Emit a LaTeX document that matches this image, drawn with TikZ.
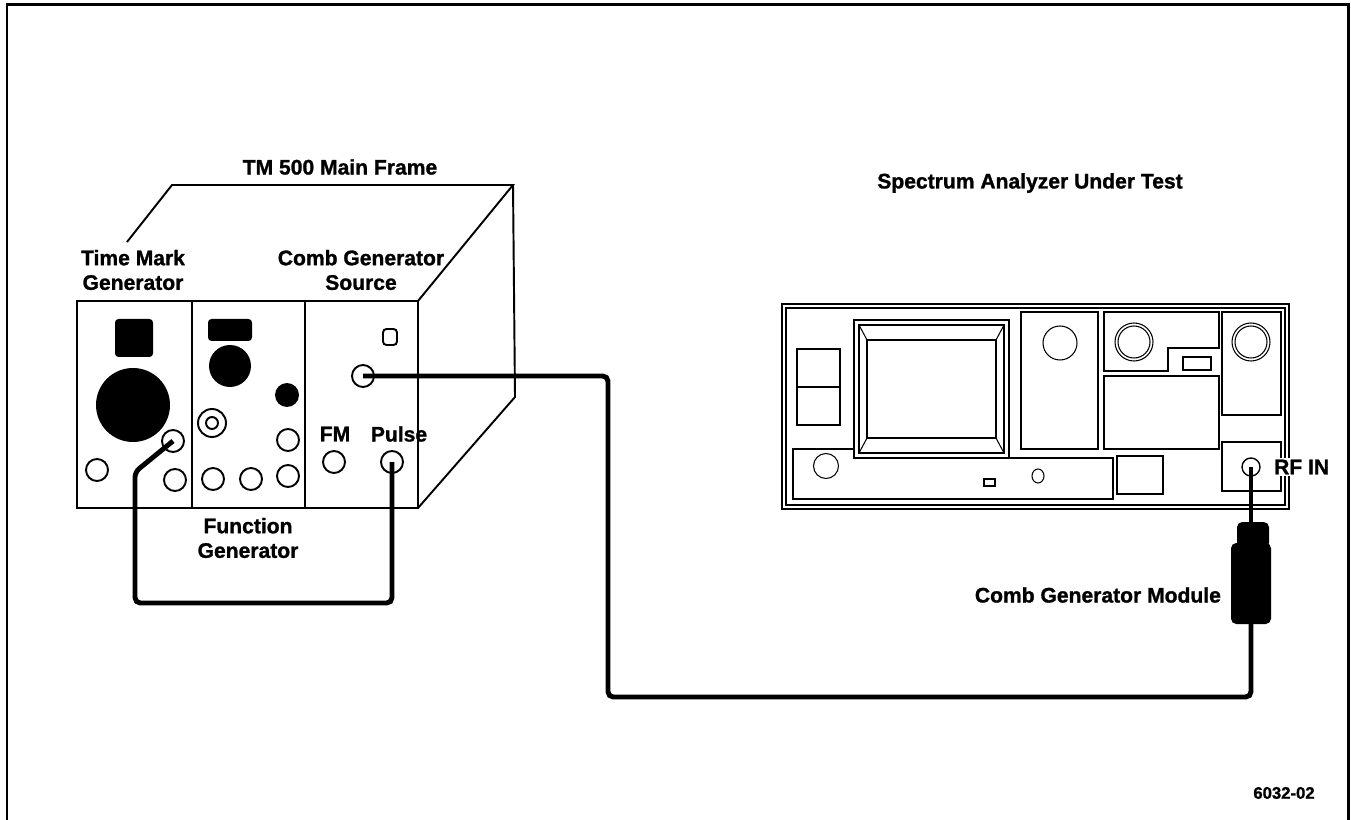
\documentclass[tikz,border=0pt]{standalone}
\usepackage{fontspec}
\setmainfont{Liberation Sans}[BoldFeatures={FakeBold=1.2}]
\begin{document}
\begin{tikzpicture}[x=0.02cm, y=-0.02cm,
  lbl/.style={font=\bfseries\fontsize{12}{14}\selectfont, align=center, inner sep=1pt},
  box/.style={line width=1.1pt},
  sa/.style={line width=0.6pt},
  jack/.style={circle, draw, line width=1.1pt, inner sep=0pt, minimum size=4.4mm},
  cable/.style={line width=2.8pt, rounded corners=3pt}]
  \useasboundingbox (0,0) rectangle (1351,820);
  \draw [line width=1.7pt] (7,820) -- (7,5) -- (1348,5) -- (1348,820);

  % TM 500 main frame
  \draw [box] (77,301) rectangle (418,508);
  \draw [box] (127,242) -- (172,185) -- (513,185) -- (418,301);
  \draw [box] (513,185) -- (515,397) -- (418,508);
  \draw [box] (192,301) -- (192,508);
  \draw [box] (305,301) -- (305,508);
  \node [lbl] (tm500) at (340,167) {TM 500 Main Frame};
  \node [lbl] (tmg) at (133,270) {Time Mark\\Generator};
  \node [lbl] (cgs) at (361,270) {Comb Generator\\Source};
  \node [lbl] (fg) at (248,538) {Function\\Generator};

  % time mark generator
  \fill [rounded corners=2pt] (115,319) rectangle (153,357);
  \fill (133,405) circle [radius=7.4mm];
  \node [jack] (tmout) at (173,441) {};
  \node [jack] (tm1) at (97,470) {};
  \node [jack] (tm2) at (175,480) {};

  % function generator
  \fill [rounded corners=2pt] (208,319) rectangle (252,341);
  \fill (230,366) circle [radius=4.2mm];
  \fill (287,395) circle [radius=2.4mm];
  \node [jack, minimum size=5.6mm] (fgbnc) at (212,423) {};
  \draw [box] (fgbnc) circle [radius=1.2mm];
  \node [jack] (fg1) at (288,440) {};
  \node [jack] (fg2) at (213,479) {};
  \node [jack] (fg3) at (251,479) {};
  \node [jack] (fg4) at (288,476) {};

  % comb generator source
  \draw [box, rounded corners=2pt] (383,329) rectangle (397,345);
  \node [jack] (combout) at (363,376) {};
  \node [lbl] (fmlbl) at (335,434) {FM};
  \node [lbl] (pulselbl) at (399,434) {Pulse};
  \node [jack] (fm) at (334,462) {};
  \node [jack] (pulse) at (392,462) {};

  % spectrum analyzer
  \node [lbl] (salbl) at (1030,183) {Spectrum Analyzer Under Test};
  \draw [sa] (782,304) rectangle (1289,509);
  \draw [sa] (786,308) rectangle (1285,505);
  \draw [sa] (797,349) rectangle (840,387);
  \draw [sa] (797,387) rectangle (840,425);
  \draw [sa] (854,320) rectangle (1009,458);
  \draw [sa] (859,325) rectangle (1004,453);
  \draw [sa] (867,340) rectangle (996,438);
  \draw [sa] (859,325) -- (867,340) (1004,325) -- (996,340)
             (859,453) -- (867,438) (1004,453) -- (996,438);
  \draw [sa] (1021,312) rectangle (1098,449);
  \draw [sa] (1060,343) circle [radius=3.4mm];
  \draw [sa] (1104,312) -- (1219,312) -- (1219,348) -- (1168,348)
             -- (1168,371) -- (1104,371) -- cycle;
  \draw [sa] (1134,342) circle [radius=3.8mm] circle [radius=3.2mm];
  \draw [sa] (1183,357) rectangle (1211,370);
  \draw [sa] (1104,376) rectangle (1219,449);
  \draw [sa] (1222,312) rectangle (1281,415);
  \draw [sa] (1251,342) circle [radius=3.8mm] circle [radius=3.2mm];
  \draw [sa] (1222,442) rectangle (1281,491);
  \draw [sa] (854,449) -- (793,449) -- (793,499) -- (1113,499)
             -- (1113,458) -- (1009,458);
  \draw [sa] (826,466) circle [radius=2.5mm];
  \draw [sa] (984,479) rectangle (995,486);
  \draw [sa] (1038,476) ellipse [x radius=1.2mm, y radius=1.4mm];
  \draw [sa] (1117,456) rectangle (1163,494);
  \node [jack, line width=0.8pt, minimum size=3.6mm] (rfin) at (1251,467) {};
  \node [lbl, fill=white, anchor=west] (rflbl) at (1272,467) {RF IN};

  % comb generator module
  \fill [rounded corners=3pt] (1237,522) rectangle (1269,548);
  \fill [rounded corners=3pt] (1231,543) rectangle (1271,624);
  \coordinate (cgmtop) at (1251,522);
  \coordinate (cgmbot) at (1251,624);
  \node [lbl, anchor=east] (cgmlbl) at (1223,595) {Comb Generator Module};

  % cables
  \draw [cable] (rfin.center) -- (cgmtop);
  \draw [cable] (combout.center) -- (608,376) -- (608,697) -- (1251,697) -- (cgmbot);
  \draw [cable] (tmout.center) -- (135,472) -- (135,603) -- (392,603) -- (pulse.center);

  \node [lbl, font=\bfseries\fontsize{9.5}{11}\selectfont] (fignum) at (1284,793) {6032-02};
\end{tikzpicture}
\end{document}
